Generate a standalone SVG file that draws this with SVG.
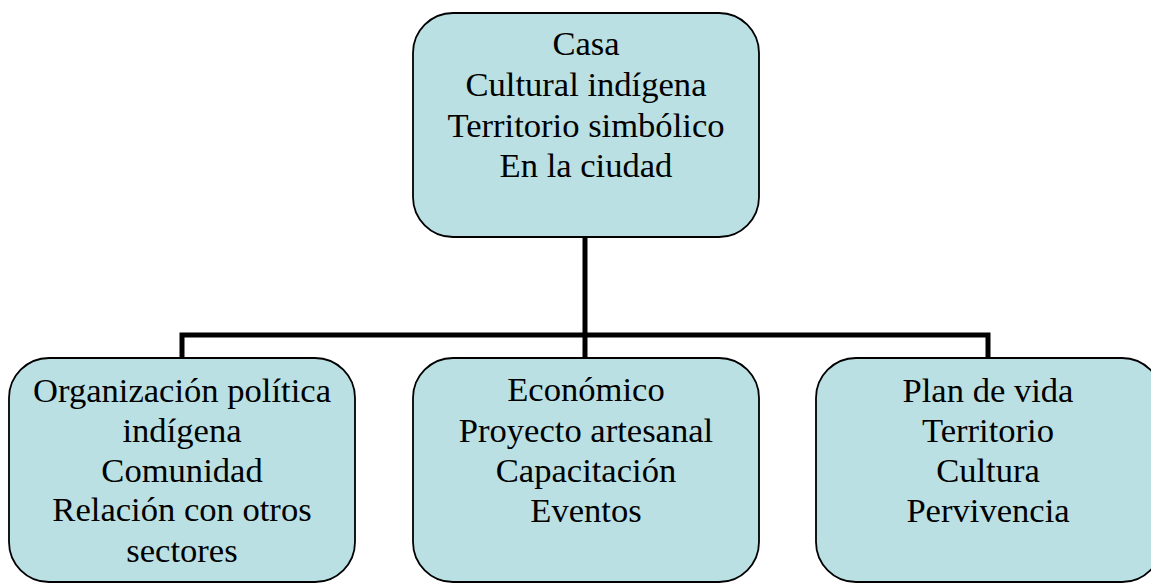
<svg xmlns="http://www.w3.org/2000/svg" width="1151" height="583" viewBox="0 0 1151 583">
<style>
.box{fill:#BAE0E3;stroke:#000;stroke-width:1.8}
.t{font-family:"Liberation Serif","Times New Roman",serif;font-size:34.6px;fill:#000;text-anchor:middle}
.c{fill:none;stroke:#000;stroke-width:5}
</style>
<rect width="1151" height="583" fill="#fff"/>
<g id="connectors">
<path class="c" d="M585 237V335"/>
<path class="c" d="M182 358V335H988V358"/>
<path class="c" d="M585 335V358"/>
</g>
<g id="top">
<rect class="box" x="413" y="13" width="346" height="224" rx="40"/>
<text class="t"><tspan x="586" y="55">Casa</tspan><tspan x="586" y="96">Cultural indígena</tspan><tspan x="586" y="137">Territorio simbólico</tspan><tspan x="586" y="177">En la ciudad</tspan></text>
</g>
<g id="left">
<rect class="box" x="9" y="358" width="346" height="224" rx="40"/>
<text class="t"><tspan x="182" y="402">Organización política</tspan><tspan x="182" y="442">indígena</tspan><tspan x="182" y="482">Comunidad</tspan><tspan x="182" y="521">Relación con otros</tspan><tspan x="182" y="562">sectores</tspan></text>
</g>
<g id="middle">
<rect class="box" x="413" y="358" width="346" height="224" rx="40"/>
<text class="t"><tspan x="586" y="401">Económico</tspan><tspan x="586" y="442">Proyecto artesanal</tspan><tspan x="586" y="482">Capacitación</tspan><tspan x="586" y="522">Eventos</tspan></text>
</g>
<g id="right">
<rect class="box" x="816" y="358" width="346" height="224" rx="40"/>
<text class="t"><tspan x="988" y="402">Plan de vida</tspan><tspan x="988" y="442">Territorio</tspan><tspan x="988" y="482">Cultura</tspan><tspan x="988" y="522">Pervivencia</tspan></text>
</g>
</svg>
